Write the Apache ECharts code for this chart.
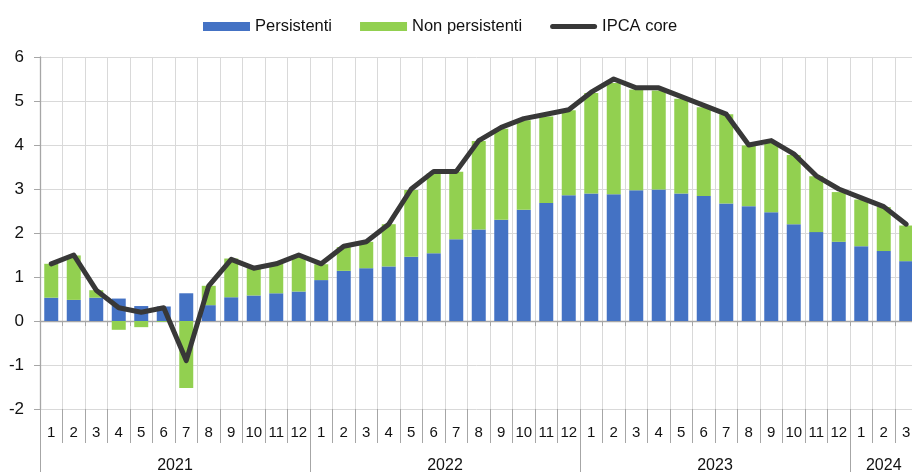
<!DOCTYPE html>
<html>
<head>
<meta charset="utf-8">
<script src="https://cdn.jsdelivr.net/npm/echarts@6/dist/echarts.min.js"></script>
<style>
  html, body { margin: 0; padding: 0; background: #fff; }
  #container { width: 912px; height: 472px; }
</style>
</head>
<body>
<div id="container"></div>
<script>
// years shown on the axis and how many months each one covers
const years = ['2021', '2022', '2023', '2024'];
const monthsInYear = [12, 12, 12, 3];

// contributions (percentage points), Jan 2021 - Mar 2024
const persistenti = [
  0.53, 0.48, 0.53, 0.51, 0.34, 0.33, 0.63, 0.36, 0.54, 0.58, 0.63, 0.67,
  0.93, 1.14, 1.20, 1.24, 1.46, 1.54, 1.86, 2.08, 2.30, 2.53, 2.68, 2.86,
  2.90, 2.88, 2.97, 2.99, 2.90, 2.84, 2.67, 2.61, 2.47, 2.20, 2.02, 1.80,
  1.70, 1.59, 1.36
];
const nonPersistenti = [
  0.77, 1.01, 0.17, -0.20, -0.14, -0.02, -1.52, 0.44, 0.88, 0.62, 0.67, 0.83,
  0.36, 0.54, 0.60, 0.96, 1.52, 1.81, 1.53, 2.01, 2.07, 2.03, 1.97, 1.93,
  2.28, 2.53, 2.29, 2.25, 2.15, 2.02, 2.03, 1.38, 1.60, 1.57, 1.27, 1.13,
  1.06, 1.00, 0.81
];
const ipcaCore = [
  1.3, 1.5, 0.7, 0.3, 0.2, 0.3, -0.9, 0.8, 1.4, 1.2, 1.3, 1.5,
  1.3, 1.7, 1.8, 2.2, 3.0, 3.4, 3.4, 4.1, 4.4, 4.6, 4.7, 4.8,
  5.2, 5.5, 5.3, 5.3, 5.1, 4.9, 4.7, 4.0, 4.1, 3.8, 3.3, 3.0,
  2.8, 2.6, 2.2
];

const FONT = 'Liberation Sans, Arial, sans-serif';

// month labels and the year of each category
const monthLabels = [];
const yearOfCategory = [];
// index where each year label goes; true = centre falls on a boundary (shift half a band)
const yearLabelAt = {};
years.forEach(function (y, i) {
  const start = monthLabels.length;
  const n = monthsInYear[i];
  for (let m = 1; m <= n; m++) {
    monthLabels.push(String(m));
    yearOfCategory.push(y);
  }
  yearLabelAt[start + Math.floor((n - 1) / 2)] = (n % 2 === 0);
});

// thick rounded line for the legend (the M moves keep the 47x9 box)
const lineIcon = 'path://M0,0 M47,9 M2.5,2 L44.5,2 A2.5,2.5 0 0 1 44.5,7 L2.5,7 A2.5,2.5 0 0 1 2.5,2 Z';

const chart = echarts.init(document.getElementById('container'), null, { renderer: 'canvas' });

chart.setOption({
  animation: false,
  textStyle: { fontFamily: FONT },
  legend: {
    left: 198,
    top: 13,
    itemWidth: 47,
    itemHeight: 9,
    itemGap: 28,
    selectedMode: false,
    textStyle: { fontSize: 16.5, color: '#111', fontFamily: FONT },
    data: [
      { name: 'Persistenti', icon: 'rect' },
      { name: 'Non persistenti', icon: 'rect' },
      { name: 'IPCA core', icon: lineIcon, itemStyle: { color: '#383838' } }
    ]
  },
  grid: { left: 40, top: 57, width: 877.5, height: 352, outerBoundsMode: 'none' },
  xAxis: [
    {
      // axis line drawn at zero, with short ticks between months
      type: 'category',
      data: monthLabels,
      boundaryGap: true,
      axisLine: { onZero: true, lineStyle: { color: '#a6a6a6', width: 1.3 } },
      axisTick: { show: true, interval: 0, length: 5, lineStyle: { color: '#a6a6a6' } },
      axisLabel: { show: false },
      splitLine: { show: true, interval: 0, lineStyle: { color: '#d9d9d9', width: 1 } }
    },
    {
      // month row
      type: 'category',
      data: monthLabels,
      position: 'bottom',
      boundaryGap: true,
      axisLine: { show: false, onZero: false },
      axisTick: { show: true, interval: 0, length: 34, lineStyle: { color: '#a6a6a6' } },
      axisLabel: { interval: 0, fontSize: 15, color: '#111', margin: 16, fontFamily: FONT },
      splitLine: { show: false }
    },
    {
      // year row
      type: 'category',
      data: yearOfCategory,
      position: 'bottom',
      boundaryGap: true,
      axisLine: { show: false, onZero: false },
      axisTick: {
        show: true,
        length: 63,
        interval: function (index) { return index % 12 === 0; },
        lineStyle: { color: '#a6a6a6' }
      },
      axisLabel: {
        margin: 49,
        fontSize: 16,
        color: '#111',
        fontFamily: FONT,
        interval: function (index) { return yearLabelAt.hasOwnProperty(index); },
        formatter: function (value, index) {
          return yearLabelAt[index] ? '{e|' + value + '}' : '{o|' + value + '}';
        },
        rich: {
          e: { fontSize: 16, fontFamily: FONT, color: '#111', padding: [0, 0, 0, 22.5] },
          o: { fontSize: 16, fontFamily: FONT, color: '#111' }
        }
      },
      splitLine: { show: false }
    }
  ],
  yAxis: {
    type: 'value',
    min: -2,
    max: 6,
    interval: 1,
    axisLine: { show: true, lineStyle: { color: '#a6a6a6', width: 1.3 } },
    axisTick: { show: true, length: 6, lineStyle: { color: '#a6a6a6' } },
    axisLabel: { fontSize: 17, color: '#111', margin: 16, fontFamily: FONT },
    splitLine: { show: true, lineStyle: { color: '#d9d9d9', width: 1 } }
  },
  series: [
    {
      name: 'Persistenti',
      type: 'bar',
      stack: 'tot',
      xAxisIndex: 0,
      barWidth: 14,
      itemStyle: { color: '#4472c4' },
      data: persistenti
    },
    {
      name: 'Non persistenti',
      type: 'bar',
      stack: 'tot',
      xAxisIndex: 0,
      barWidth: 14,
      itemStyle: { color: '#92d050' },
      data: nonPersistenti
    },
    {
      name: 'IPCA core',
      type: 'line',
      xAxisIndex: 0,
      symbol: 'none',
      z: 5,
      itemStyle: { color: '#383838' },
      lineStyle: { color: '#383838', width: 5, cap: 'round', join: 'round' },
      data: ipcaCore
    }
  ]
});
</script>
</body>
</html>
